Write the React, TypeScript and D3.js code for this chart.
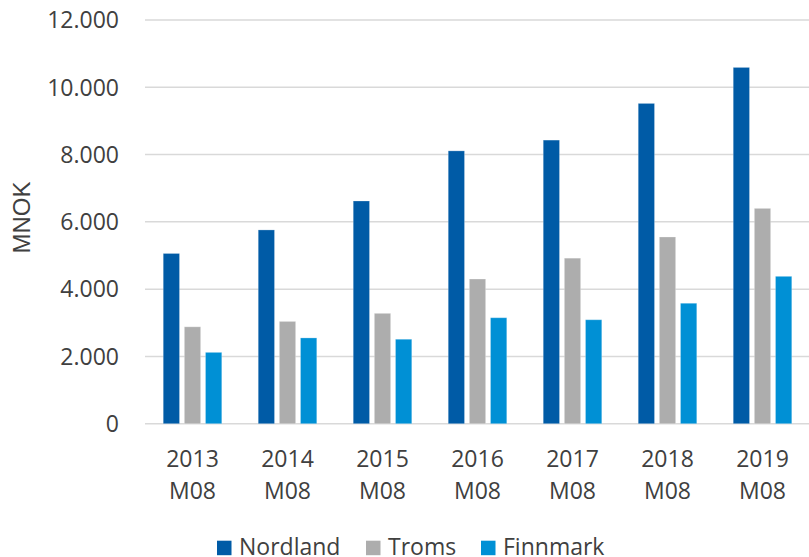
import React from "react";
import * as d3 from "d3";

const categories = ["2013|M08", "2014|M08", "2015|M08", "2016|M08", "2017|M08", "2018|M08", "2019|M08"];
const seriesNames = ["Nordland", "Troms", "Finnmark"];
const nordland = [5060, 5760, 6620, 8110, 8430, 9520, 10590];
const troms = [2880, 3040, 3280, 4300, 4920, 5550, 6400];
const finnmark = [2120, 2550, 2510, 3150, 3090, 3580, 4380];
const yTicks = [0, 2000, 4000, 6000, 8000, 10000, 12000];
const colors = ["#005BA6", "#ADADAD", "#0090D5"];

const W = 809;
const H = 557;
const FONT = "'Open Sans', sans-serif";
const TEXT = "#404040";

export default function App() {
  const seriesVals = [nordland, troms, finnmark];
  const x0 = d3.scaleBand<string>().domain(categories).range([145, 810]).paddingInner(0.384).paddingOuter(0.192);
  const x1 = d3.scaleBand<string>().domain(seriesNames).range([0, x0.bandwidth()]).paddingInner(0.23).paddingOuter(0);
  const y = d3.scaleLinear().domain([0, 12000]).range([423.7, 20]);
  const fmt = (v: number) => (v === 0 ? "0" : d3.format(",")(v).replace(/,/g, "."));
  const legendX = [217, 366, 481];

  return (
    <svg width={W} height={H} style={{ position: "absolute", left: 0, top: 0, background: "#fff" }}>
      {yTicks.map((t) => (
        <g key={t}>
          <line x1={145} x2={809} y1={y(t)} y2={y(t)} stroke="#D9D9D9" strokeWidth={1.5} />
          <text x={119} y={y(t)} dy="0.36em" textAnchor="end" fontFamily={FONT} fontSize={23} fill={TEXT}>
            {fmt(t)}
          </text>
        </g>
      ))}
      {categories.map((c, i) => (
        <g key={c}>
          {seriesNames.map((s, j) => {
            const v = seriesVals[j][i];
            const bx = (x0(c) as number) + (x1(s) as number);
            return (
              <rect
                key={s}
                x={bx}
                y={y(v)}
                width={x1.bandwidth()}
                height={y(0) - y(v)}
                fill={colors[j]}
                stroke="rgba(255,255,255,0.25)"
                strokeWidth={1}
              />
            );
          })}
          {c.split("|").map((line, k) => (
            <text
              key={k}
              x={(x0(c) as number) + x0.bandwidth() / 2}
              y={467.3 + k * 32}
              textAnchor="middle"
              fontFamily={FONT}
              fontSize={23}
              fill={TEXT}
            >
              {line}
            </text>
          ))}
        </g>
      ))}
      <text
        transform="translate(30,217.5) rotate(-90)"
        textAnchor="middle"
        fontFamily="'Liberation Sans', Arial, sans-serif"
        fontSize={24}
        fill={TEXT}
      >
        MNOK
      </text>
      {seriesNames.map((s, j) => (
        <g key={s}>
          <rect x={legendX[j]} y={540.7} width={14.5} height={14.5} fill={colors[j]} />
          <text x={legendX[j] + 22} y={555} fontFamily={FONT} fontSize={23} fill={TEXT}>
            {s}
          </text>
        </g>
      ))}
    </svg>
  );
}
